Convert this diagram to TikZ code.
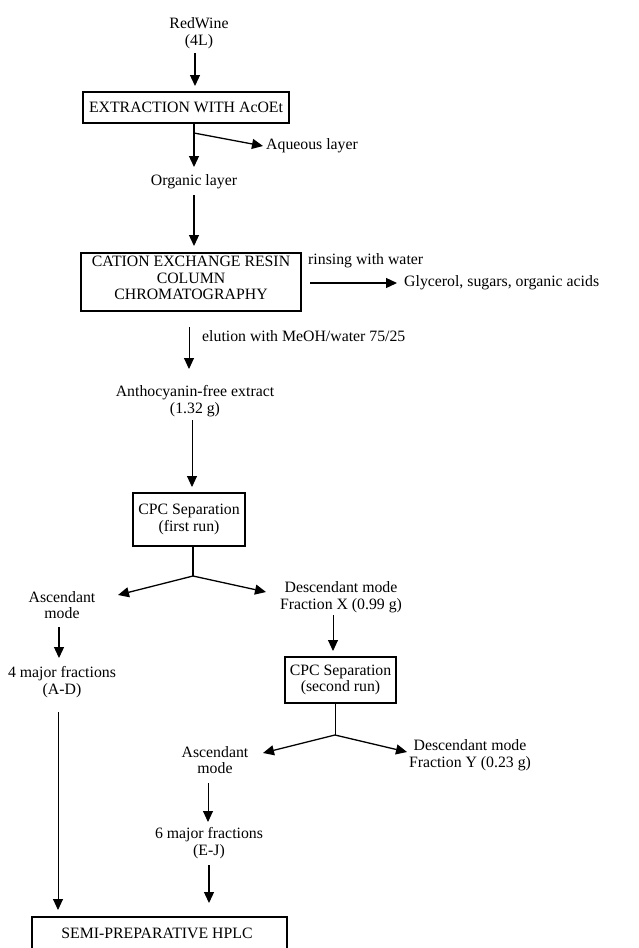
\documentclass[tikz,border=0pt]{standalone}
\usepackage{fontspec}
\setmainfont{Liberation Serif}
\usetikzlibrary{arrows.meta}
\begin{document}
\begin{tikzpicture}[x=1pt,y=-1pt,
  txt/.style={align=center,inner sep=0pt,font=\fontsize{15.8}{16.5}\selectfont},
  boxnode/.style={draw,line width=1.2pt,inner sep=0pt,align=center,font=\fontsize{15.8}{16.5}\selectfont},
  arr/.style={line width=1.3pt,-{Triangle[length=11pt,width=10pt]}},
  thinarr/.style={line width=0.9pt,-{Triangle[length=11pt,width=10pt]}},
  ln/.style={line width=1.3pt},
  thinln/.style={line width=0.9pt}]
\useasboundingbox (0,0) rectangle (639,948);
\fill[white] (0,0) rectangle (639,948);

% texts and boxes
\node[txt] (wine) at (199,33) {RedWine\\(4L)};
\node[boxnode,minimum width=206,minimum height=31] (ext) at (186,107.5) {EXTRACTION WITH AcOEt};
\node[txt,anchor=west] (aq) at (266,146) {Aqueous layer};
\node[txt] (org) at (194,182) {Organic layer};
\node[boxnode,minimum width=220,minimum height=58] (cat) at (191,282) {};
\node[txt] (catt) at (191,278) {CATION EXCHANGE RESIN\\COLUMN\\CHROMATOGRAPHY};
\node[txt,anchor=west] (rin) at (308,261) {rinsing with water};
\node[txt,anchor=west] (gly) at (404,283) {Glycerol, sugars, organic acids};
\node[txt,anchor=west] (elu) at (202,336) {elution with MeOH/water 75/25};
\node[txt] (anth) at (195,401) {Anthocyanin-free extract\\(1.32 g)};
\node[boxnode,minimum width=112,minimum height=53] (cpc1) at (189,519.5) {CPC Separation\\(first run)};
\node[txt] (asc1) at (62,605) {Ascendant\\mode};
\node[txt] (desc1) at (341,597) {Descendant mode\\Fraction X (0.99 g)};
\node[txt] (fr4) at (62,682) {4 major fractions\\(A-D)};
\node[boxnode,minimum width=111,minimum height=46] (cpc2) at (340.5,680) {CPC Separation\\(second run)};
\node[txt] (asc2) at (215,760) {Ascendant\\mode};
\node[txt] (desc2) at (470,755) {Descendant mode\\Fraction Y (0.23 g)};
\node[txt] (fr6) at (209,843) {6 major fractions\\(E-J)};
\node[boxnode,minimum width=255,minimum height=48] (hplc) at (159.5,941) {};
\node[txt] (hplct) at (157,933) {SEMI-PREPARATIVE HPLC};

% free ends and junctions
\coordinate (w0) at (195,53);
\coordinate (w1) at (195,86);
\coordinate (e0) at (194,123);
\coordinate (e1) at (194,167);
\coordinate (j0) at (194,133);
\coordinate (aqt) at (263,146);
\coordinate (o0) at (194,195);
\coordinate (o1) at (194,246);
\coordinate (r0) at (310,283);
\coordinate (r1) at (397,283);
\coordinate (el0) at (189,327);
\coordinate (el1) at (189,369);
\coordinate (an0) at (192,420);
\coordinate (an1) at (192,487);
\coordinate (c10) at (193,546);
\coordinate (j1) at (193,576);
\coordinate (l1) at (118,595);
\coordinate (r1b) at (266,592);
\coordinate (a10) at (59,627);
\coordinate (a11) at (59,658);
\coordinate (f40) at (58,712);
\coordinate (f41) at (58,910);
\coordinate (d10) at (333,615);
\coordinate (d11) at (333,651);
\coordinate (c20) at (335,703);
\coordinate (j2) at (335,735);
\coordinate (l2) at (263,753);
\coordinate (r2) at (407,752);
\coordinate (a20) at (208,783);
\coordinate (a21) at (208,822);
\coordinate (f60) at (209,865);
\coordinate (f61) at (209,903);

% connectors
\draw[arr] (w0) -- (w1);
\draw[arr] (e0) -- (e1);
\draw[arr] (j0) -- (aqt);
\draw[arr] (o0) -- (o1);
\draw[arr] (r0) -- (r1);
\draw[thinarr] (el0) -- (el1);
\draw[thinarr] (an0) -- (an1);
\draw[ln] (c10) -- (j1);
\draw[arr] (j1) -- (l1);
\draw[arr] (j1) -- (r1b);
\draw[arr] (a10) -- (a11);
\draw[thinarr] (f40) -- (f41);
\draw[thinarr] (d10) -- (d11);
\draw[thinln] (c20) -- (j2);
\draw[arr] (j2) -- (l2);
\draw[arr] (j2) -- (r2);
\draw[thinarr] (a20) -- (a21);
\draw[arr] (f60) -- (f61);
\end{tikzpicture}
\end{document}
